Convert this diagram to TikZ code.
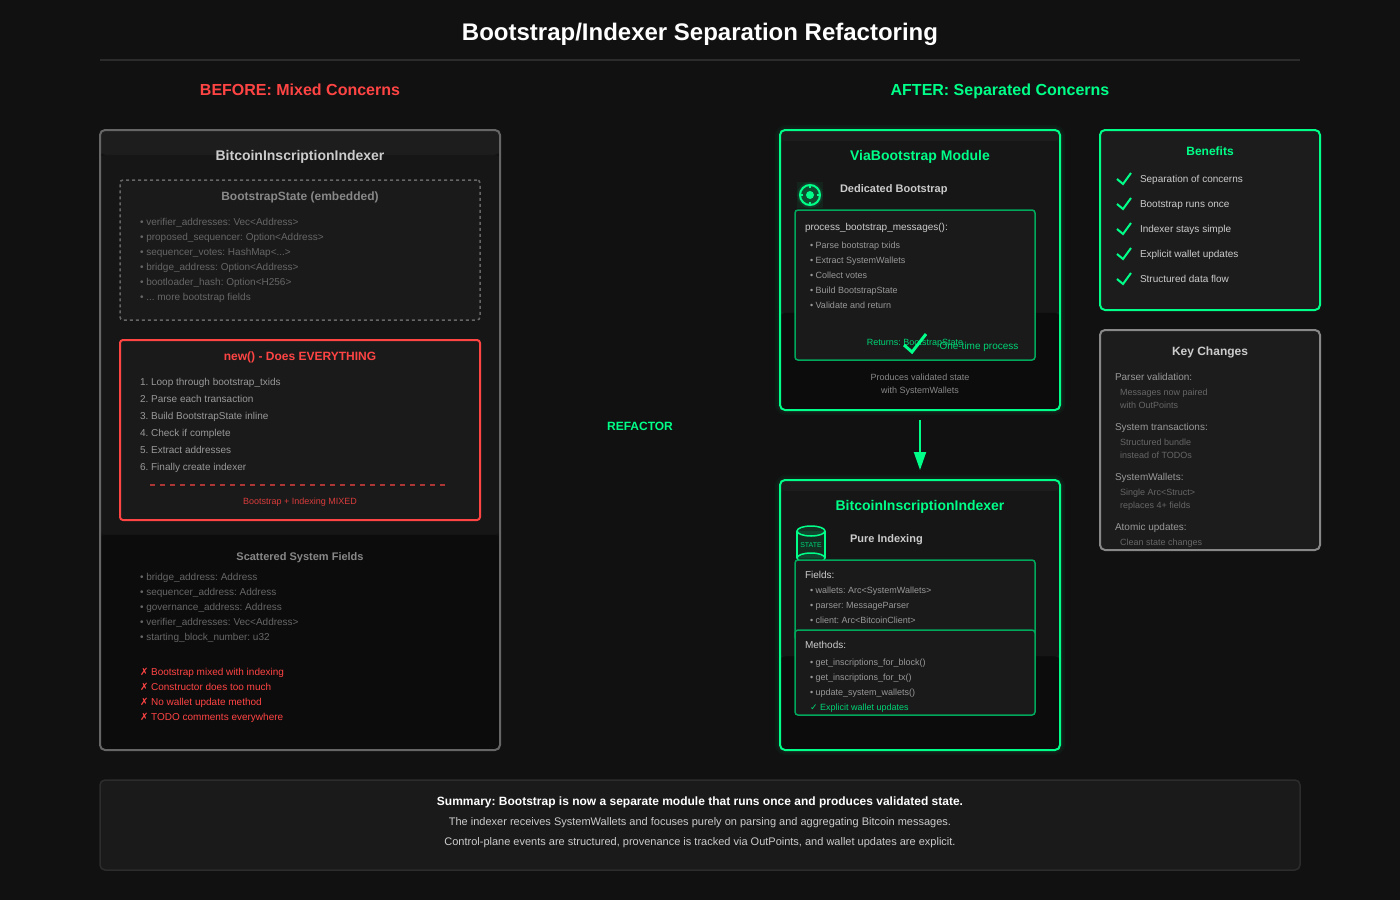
\documentclass[tikz,border=0pt]{standalone}
\usepackage{fontspec}
\setmainfont{Liberation Sans}
\newfontfamily\djv{DejaVu Sans}
\usetikzlibrary{arrows.meta,calc}
\definecolor{bgc}{HTML}{111111}
\definecolor{gr}{HTML}{00FF88}
\definecolor{grd}{HTML}{00D474}
\definecolor{grb}{HTML}{00A85C}
\definecolor{rd}{HTML}{FF4444}
\definecolor{rdd}{HTML}{D93B3B}
\definecolor{rdl}{HTML}{AA3636}
\definecolor{cc}{HTML}{CCCCCC}
\definecolor{c9}{HTML}{999999}
\definecolor{c8}{HTML}{888888}
\definecolor{c6}{HTML}{666666}
\definecolor{bnA}{HTML}{1D1D1D}
\definecolor{bnB}{HTML}{161616}
\definecolor{bnC}{HTML}{0C0C0C}
\definecolor{boxf}{HTML}{1A1A1A}
\definecolor{sidef}{HTML}{1C1C1C}
\definecolor{sumb}{HTML}{2C2C2C}
\definecolor{rulec}{HTML}{2C2C2C}
\newcommand\fs[1]{\fontsize{#1}{#1}\selectfont\frenchspacing}
\tikzset{
  x=1pt,y=-1pt,
  tl/.style={inner sep=0pt,outer sep=0pt,anchor=base west},
  tc/.style={inner sep=0pt,outer sep=0pt,anchor=base},
  f9/.style={font=\fs{9}},
  f10/.style={font=\fs{10}},
  f11b/.style={font=\fs{11}\bfseries},
  f12b/.style={font=\fs{12}\bfseries},
  f14b/.style={font=\fs{14}\bfseries},
  f16b/.style={font=\fs{16}\bfseries},
  box/.style={rectangle,inner sep=0pt,outer sep=0pt,rounded corners=#1},
  box/.default=5pt,
  bands/.style={path picture={
    \fill[bnA] (path picture bounding box.north west) rectangle ($(path picture bounding box.north east)!.04!(path picture bounding box.south east)$);
    \fill[bnB] ($(path picture bounding box.north west)!.04!(path picture bounding box.south west)$) rectangle ($(path picture bounding box.north east)!.653!(path picture bounding box.south east)$);
    \fill[bnC] ($(path picture bounding box.north west)!.653!(path picture bounding box.south west)$) rectangle (path picture bounding box.south east);
  }},
  glow/.style={draw=gr,opacity=.04,rounded corners=6pt},
  chk/.style={draw=gr,line width=2pt,line join=miter},
}
\begin{document}
\begin{tikzpicture}
\useasboundingbox (0,0) rectangle (1400,900);
\fill[bgc] (0,0) rectangle (1400,900);

% title
\node[tc,font=\fs{24}\bfseries,text=white] (title) at (700,40) {Bootstrap/Indexer Separation Refactoring};
\coordinate (ruleL) at (100,60);
\coordinate (ruleR) at (1300,60);
\draw[draw=rulec,line width=1.5pt] (ruleL) -- (ruleR);
\node[tc,f16b,text=rd] (before) at (300,95) {BEFORE: Mixed Concerns};
\node[tc,f16b,text=gr] (after) at (1000,95) {AFTER: Separated Concerns};
\node[tc,font=\fs{12}\bfseries,text=gr] (refactor) at (640,430) {REFACTOR};

% left panel
\node[box,bands,draw=c6,line width=2pt,minimum width=400pt,minimum height=620pt] (left) at (300,440) {};
\node[tc,f14b,text=cc] (leftT) at (300,160) {BitcoinInscriptionIndexer};
\node[box=3pt,fill=boxf,draw=c6,line width=1.5pt,dash pattern=on 3pt off 3pt,minimum width=360pt,minimum height=140pt] (embed) at (300,250) {};
\node[tc,f12b,text=c8] (embedT) at (300,200) {BootstrapState (embedded)};
\node[tl,f10,text=c6] (e1) at (140,225.5) {• verifier\_addresses: Vec<Address>};
\node[tl,f10,text=c6] (e2) at (140,240.5) {• proposed\_sequencer: Option<Address>};
\node[tl,f10,text=c6] (e3) at (140,255.5) {• sequencer\_votes: HashMap<...>};
\node[tl,f10,text=c6] (e4) at (140,270.5) {• bridge\_address: Option<Address>};
\node[tl,f10,text=c6] (e5) at (140,285.5) {• bootloader\_hash: Option<H256>};
\node[tl,f10,text=c6] (e6) at (140,300.5) {• ... more bootstrap fields};

\node[box=3pt,fill=boxf,draw=rd,line width=2pt,minimum width=360pt,minimum height=180pt] (newbox) at (300,430) {};
\node[tc,f12b,text=rd] (newT) at (300,360) {new() - Does EVERYTHING};
\node[tl,f10,text=c9] (n1) at (140,385.5) {1. Loop through bootstrap\_txids};
\node[tl,f10,text=c9] (n2) at (140,402.5) {2. Parse each transaction};
\node[tl,f10,text=c9] (n3) at (140,419.5) {3. Build BootstrapState inline};
\node[tl,f10,text=c9] (n4) at (140,436.5) {4. Check if complete};
\node[tl,f10,text=c9] (n5) at (140,453.5) {5. Extract addresses};
\node[tl,f10,text=c9] (n6) at (140,470.5) {6. Finally create indexer};
\coordinate (dashL) at (150,485);
\coordinate (dashR) at (448,485);
\draw[draw=rdl,line width=1.5pt,dash pattern=on 5pt off 5pt] (dashL) -- (dashR);
\node[tc,f9,text=rdd] (mixed) at (300,504) {Bootstrap + Indexing MIXED};

\node[tc,f11b,text=c8] (scatT) at (300,560) {Scattered System Fields};
\node[tl,f10,text=c6] (s1) at (140,580.5) {• bridge\_address: Address};
\node[tl,f10,text=c6] (s2) at (140,595.5) {• sequencer\_address: Address};
\node[tl,f10,text=c6] (s3) at (140,610.5) {• governance\_address: Address};
\node[tl,f10,text=c6] (s4) at (140,625.5) {• verifier\_addresses: Vec<Address>};
\node[tl,f10,text=c6] (s5) at (140,640.5) {• starting\_block\_number: u32};
\node[tl,f10,text=rd] (x1) at (140,675.5) {{\djv\fs{10}✗} Bootstrap mixed with indexing};
\node[tl,f10,text=rd] (x2) at (140,690.5) {{\djv\fs{10}✗} Constructor does too much};
\node[tl,f10,text=rd] (x3) at (140,705.5) {{\djv\fs{10}✗} No wallet update method};
\node[tl,f10,text=rd] (x4) at (140,720.5) {{\djv\fs{10}✗} TODO comments everywhere};

% via bootstrap
\draw[glow,line width=10pt] (780,130) rectangle (1060,410);
\draw[glow,line width=6pt] (780,130) rectangle (1060,410);
\node[box,bands,draw=gr,line width=2pt,minimum width=280pt,minimum height=280pt] (via) at (920,270) {};
\node[tc,f14b,text=gr] (viaT) at (920,160) {ViaBootstrap Module};
\fill[gr,opacity=.06] (797,182) rectangle (823,208);
\fill[gr,opacity=.10] (810,195) circle (13);
\fill[gr,opacity=.10] (810,195) circle (11.5);
\node[circle,draw=gr,line width=2pt,minimum size=20pt,inner sep=0pt,outer sep=0pt] (target) at (810,195) {};
\node[circle,fill=gr,minimum size=8pt,inner sep=0pt,outer sep=0pt] (targetC) at (810,195) {};
\draw[gr,line width=1.5pt] (target.north) -- ++(0,3);
\draw[gr,line width=1.5pt] (target.south) -- ++(0,-3);
\draw[gr,line width=1.5pt] (target.west) -- ++(3,0);
\draw[gr,line width=1.5pt] (target.east) -- ++(-3,0);
\node[tl,f11b,text=cc] (dedic) at (840,192) {Dedicated Bootstrap};
\node[box=3pt,fill=boxf,draw=grb,line width=1.5pt,minimum width=240pt,minimum height=150pt] (proc) at (915,285) {};
\node[tl,f10,text=cc] (procT) at (805,230.5) {process\_bootstrap\_messages():};
\node[tl,f9,text=c9] (p1) at (810,248) {• Parse bootstrap txids};
\node[tl,f9,text=c9] (p2) at (810,263) {• Extract SystemWallets};
\node[tl,f9,text=c9] (p3) at (810,278) {• Collect votes};
\node[tl,f9,text=c9] (p4) at (810,293) {• Build BootstrapState};
\node[tl,f9,text=c9] (p5) at (810,308) {• Validate and return};
\node[tc,f9,text=grd] (returns) at (915,345) {Returns: BootstrapState};
\node[tl,f10,text=grd] (oneT) at (939.5,349) {One-time process};
\coordinate (ck1) at (904,345);
\coordinate (ck2) at (912,352);
\coordinate (ck3) at (926,334);
\draw[gr,line width=3pt] (ck1) -- (ck2) -- (ck3);
\node[tc,f9,text=c8] (prod1) at (920,380) {Produces validated state};
\node[tc,f9,text=c8] (prod2) at (920,393) {with SystemWallets};

% indexer
\draw[glow,line width=10pt] (780,480) rectangle (1060,750);
\draw[glow,line width=6pt] (780,480) rectangle (1060,750);
\node[box,bands,draw=gr,line width=2pt,minimum width=280pt,minimum height=270pt] (idx) at (920,615) {};
\node[tc,f14b,text=gr] (idxT) at (920,510) {BitcoinInscriptionIndexer};
\fill[gr,opacity=.1] (797,531) rectangle (825,558);
\draw[gr,line width=1.5pt] (797,531) -- (797,558);
\draw[gr,line width=1.5pt] (825,531) -- (825,558);
\draw[gr,line width=1.5pt,fill=gr,fill opacity=.12] (811,531) ellipse[x radius=14,y radius=5];
\draw[gr,line width=1.5pt,fill=gr,fill opacity=.12] (811,558) ellipse[x radius=14,y radius=5];
\node[tc,font=\fs{7},text=grd] (state) at (811,547.5) {STATE};
\node[tl,f11b,text=cc] (pure) at (850,542) {Pure Indexing};
\node[box=3pt,fill=boxf,draw=grb,line width=1.5pt,minimum width=240pt,minimum height=80pt] (fields) at (915,600) {};
\node[tl,f10,text=cc] (fT) at (805,578.5) {Fields:};
\node[tl,f9,text=c9] (f1) at (810,593) {• wallets: Arc<SystemWallets>};
\node[tl,f9,text=c9] (f2) at (810,608) {• parser: MessageParser};
\node[tl,f9,text=c9] (f3) at (810,623) {• client: Arc<BitcoinClient>};
\node[box=3pt,fill=boxf,draw=grb,line width=1.5pt,minimum width=240pt,minimum height=85pt] (methods) at (915,672.5) {};
\node[tl,f10,text=cc] (mT) at (805,648.5) {Methods:};
\node[tl,f9,text=c9] (m1) at (810,665) {• get\_inscriptions\_for\_block()};
\node[tl,f9,text=c9] (m2) at (810,680) {• get\_inscriptions\_for\_tx()};
\node[tl,f9,text=c9] (m3) at (810,695) {• update\_system\_wallets()};
\node[tl,f9,text=grd] (m4) at (810,710) {{\djv\fs{9}✓} Explicit wallet updates};

% arrow
\draw[draw=gr,line width=2pt,-{Triangle[length=18pt,width=12pt]},shorten >=10pt,shorten <=10pt] (via.south) -- (idx.north);

% benefits
\node[box,fill=sidef,draw=gr,line width=2pt,minimum width=220pt,minimum height=180pt] (ben) at (1210,220) {};
\node[tc,f12b,text=gr] (benT) at (1210,155) {Benefits};
\draw[chk] (1117,179) -- (1123,184) -- (1131,173);
\draw[chk] (1117,204) -- (1123,209) -- (1131,198);
\draw[chk] (1117,229) -- (1123,234) -- (1131,223);
\draw[chk] (1117,254) -- (1123,259) -- (1131,248);
\draw[chk] (1117,279) -- (1123,284) -- (1131,273);
\node[tl,f10,text=cc] (b1) at (1140,182) {Separation of concerns};
\node[tl,f10,text=cc] (b2) at (1140,207) {Bootstrap runs once};
\node[tl,f10,text=cc] (b3) at (1140,232) {Indexer stays simple};
\node[tl,f10,text=cc] (b4) at (1140,257) {Explicit wallet updates};
\node[tl,f10,text=cc] (b5) at (1140,282) {Structured data flow};

% key changes
\node[box,fill=sidef,draw=c8,line width=2pt,minimum width=220pt,minimum height=220pt] (key) at (1210,440) {};
\node[tc,f12b,text=cc] (keyT) at (1210,355) {Key Changes};
\node[tl,f10,text=c9] (k1) at (1115,380.5) {Parser validation:};
\node[tl,f9,text=c6] (k1a) at (1120,395) {Messages now paired};
\node[tl,f9,text=c6] (k1b) at (1120,408) {with OutPoints};
\node[tl,f10,text=c9] (k2) at (1115,430.5) {System transactions:};
\node[tl,f9,text=c6] (k2a) at (1120,445) {Structured bundle};
\node[tl,f9,text=c6] (k2b) at (1120,458) {instead of TODOs};
\node[tl,f10,text=c9] (k3) at (1115,480.5) {SystemWallets:};
\node[tl,f9,text=c6] (k3a) at (1120,495) {Single Arc<Struct>};
\node[tl,f9,text=c6] (k3b) at (1120,508) {replaces 4+ fields};
\node[tl,f10,text=c9] (k4) at (1115,530.5) {Atomic updates:};
\node[tl,f9,text=c6] (k4a) at (1120,545) {Clean state changes};

% summary
\node[box,fill=boxf,draw=sumb,line width=1.5pt,minimum width=1200pt,minimum height=90pt] (sum) at (700,825) {};
\node[tc,font=\fs{11}\bfseries,text=white] (sum1) at (700,805) {\fs{12}\bfseries Summary: Bootstrap is now a separate module that runs once and produces validated state.};
\node[tc,font=\fs{11},text=cc] (sum2) at (700,825) {The indexer receives SystemWallets and focuses purely on parsing and aggregating Bitcoin messages.};
\node[tc,font=\fs{11},text=cc] (sum3) at (700,845) {Control-plane events are structured, provenance is tracked via OutPoints, and wallet updates are explicit.};
\end{tikzpicture}
\end{document}
